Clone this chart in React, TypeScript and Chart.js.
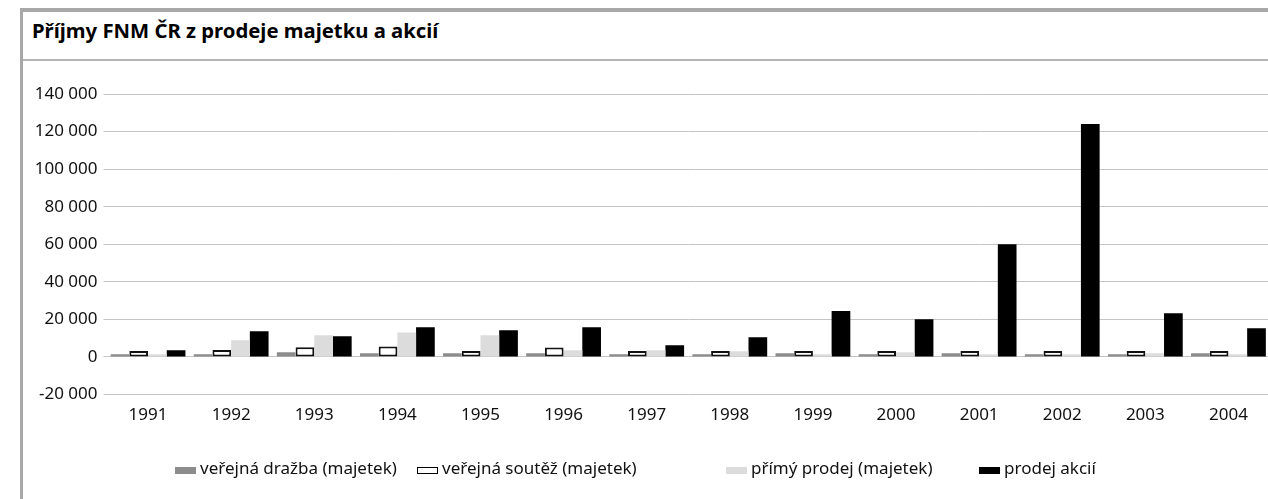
import React, { useEffect, useRef } from "react";
import { Chart, registerables } from "chart.js";

Chart.register(...registerables);

const title = "Příjmy FNM ČR z prodeje majetku a akcií";
const years = ["1991", "1992", "1993", "1994", "1995", "1996", "1997", "1998", "1999", "2000", "2001", "2002", "2003", "2004"];
const verejnaDrazba = [1400, 1400, 2500, 2000, 2000, 2000, 1400, 1400, 2000, 1400, 2000, 1400, 1400, 2000];
const verejnaSoutez = [3200, 3700, 5200, 5500, 3200, 5000, 3200, 3200, 3200, 3200, 3200, 3200, 3200, 3200];
const primyProdej = [1400, 8900, 11500, 13000, 11500, 3500, 3500, 3000, 1400, 2500, 1400, 1400, 2000, 1400];
const prodejAkcii = [3500, 13700, 11000, 15800, 14200, 15800, 6200, 10500, 24400, 20100, 60000, 124000, 23300, 15300];
const seriesNames = ["veřejná dražba (majetek)", "veřejná soutěž (majetek)", "přímý prodej (majetek)", "prodej akcií"];
const seriesColors = ["#8c8c8c", "#ffffff", "#dcdcdc", "#000000"];
const yTicks = [-20000, 0, 20000, 40000, 60000, 80000, 100000, 120000, 140000];

const FONT = "'Noto Sans', 'Open Sans', sans-serif";
const legendLeft = [175, 417, 726, 979];

function fmt(v: number): string {
  const s = Math.abs(v).toString().replace(/\B(?=(\d{3})+(?!\d))/g, " ");
  return (v < 0 ? "-" : "") + s;
}

export default function App() {
  const ref = useRef<HTMLCanvasElement | null>(null);
  useEffect(() => {
    if (!ref.current) return;
    const chart = new Chart(ref.current, {
      type: "bar",
      data: {
        labels: years,
        datasets: [
          { label: seriesNames[0], data: verejnaDrazba, backgroundColor: seriesColors[0], borderWidth: 0 },
          { label: seriesNames[1], data: verejnaSoutez, backgroundColor: seriesColors[1], borderColor: "#111111", borderWidth: 2, borderSkipped: false },
          { label: seriesNames[2], data: primyProdej, backgroundColor: seriesColors[2], borderWidth: 0 },
          { label: seriesNames[3], data: prodejAkcii, backgroundColor: seriesColors[3], borderWidth: 0 },
        ],
      },
      options: {
        responsive: false,
        animation: false,
        maintainAspectRatio: false,
        datasets: { bar: { categoryPercentage: 0.9, barPercentage: 1.0 } },
        layout: { padding: { top: 32, right: 0, left: 0, bottom: 62.5 } },
        plugins: {
          title: { display: false },
          tooltip: { enabled: false },
          legend: { display: false },
        },
        scales: {
          x: {
            grid: { display: false, drawTicks: false },
            border: { display: false },
            ticks: { font: { family: FONT, size: 17 }, color: "#111", padding: 10, maxRotation: 0 },
            afterFit: (s: any) => { s.height = 42; },
          },
          y: {
            min: -20000,
            max: 140000,
            afterBuildTicks: (s: any) => { s.ticks = yTicks.map((v) => ({ value: v })); },
            grid: { color: "#c4c4c4", lineWidth: 1, tickLength: 3, drawTicks: true },
            border: { display: false },
            ticks: {
              font: { family: FONT, size: 17 },
              color: "#111",
              padding: 6,
              callback: (v: any) => fmt(Number(v)),
            },
            afterFit: (s: any) => { s.width = 83.5; },
          },
        },
      },
    });
    return () => chart.destroy();
  }, []);

  return (
    <div style={{ position: "absolute", left: 0, top: 0, width: 1268, height: 499, overflow: "hidden", background: "#fff" }}>
      <div style={{ position: "absolute", left: 20, top: 8, width: 1248, height: 491, borderTop: "4px solid #a8a8a8", borderLeft: "3px solid #a8a8a8", boxSizing: "border-box" }} />
      <div style={{ position: "absolute", left: 23, top: 59, width: 1245, height: 0, borderTop: "2px solid #b4b4b4" }} />
      <div style={{ position: "absolute", left: 32, top: 18, fontFamily: FONT, fontWeight: 700, fontSize: 20.3, lineHeight: "24px", color: "#000", whiteSpace: "nowrap" }}>{title}</div>
      <canvas ref={ref} width={1247} height={437} style={{ position: "absolute", left: 23, top: 62, width: 1247, height: 437 }} />
      {seriesNames.map((name, i) => (
        <React.Fragment key={name}>
          <div style={{ position: "absolute", left: legendLeft[i], top: 467, width: 21, height: 7, boxSizing: "border-box", background: seriesColors[i], border: i === 1 ? "1px solid #000" : "none" }} />
          <div style={{ position: "absolute", left: legendLeft[i] + 25, top: 457, fontFamily: FONT, fontSize: 17, lineHeight: "22px", color: "#111", whiteSpace: "nowrap" }}>{name}</div>
        </React.Fragment>
      ))}
    </div>
  );
}
